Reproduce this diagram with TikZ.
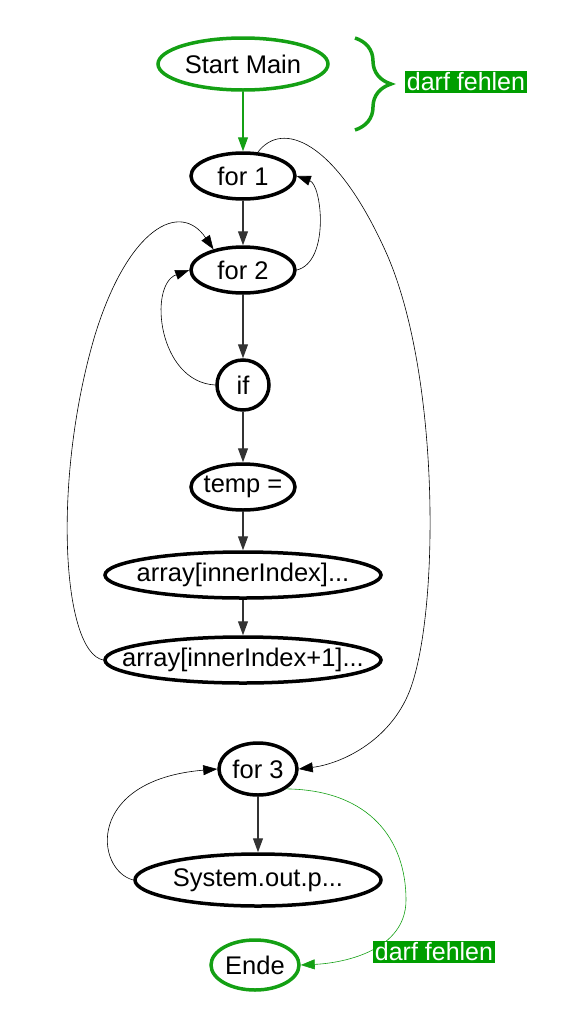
\documentclass[tikz,border=0pt]{standalone}
\usepackage{fontspec}
\setmainfont{Liberation Sans}
\usetikzlibrary{shapes.geometric,arrows.meta,decorations.pathreplacing}
\definecolor{okgreen}{RGB}{20,160,20}
\definecolor{tagbg}{RGB}{0,158,0}
\begin{document}
\begin{tikzpicture}[x=1pt,y=-1pt,
    state/.style={ellipse,draw=black,line width=3.5pt,inner xsep=-40pt,inner ysep=0pt,
      fill=white,font=\fontsize{25.5}{30}\selectfont,minimum height=46},
    endstate/.style={state,draw=okgreen},
    flow/.style={line width=1.2pt,draw=black!80,-{Triangle[length=14pt,width=10pt]}},
    back/.style={line width=0.6pt,draw=black,-{Triangle[length=14pt,width=10pt]}},
    tag/.style={fill=tagbg,text=white,inner sep=2pt,font=\fontsize{25}{30}\selectfont}]
      \useasboundingbox (0,0) rectangle (563,1010);
      % nodes
      \node[endstate,minimum width=170,minimum height=52] (start) at (243,64) {Start Main};
      \node[state,minimum width=104] (for1) at (243,176) {for 1};
      \node[state,minimum width=104] (for2) at (243,270) {for 2};
      \node[state,minimum width=52,minimum height=50] (if) at (243,385) {if};
      \node[state,minimum width=104] (temp) at (243,487) {temp =};
      \node[state,minimum width=276] (swapa) at (243,575) {array[innerIndex]...};
      \node[state,minimum width=276] (swapb) at (243,660) {array[innerIndex+1]...};
      \node[state,minimum width=78,minimum height=52] (for3) at (258,769) {for 3};
      \node[state,minimum width=246,minimum height=52] (print) at (258,880) {System.out.p...};
      \node[endstate,minimum width=88,minimum height=50] (ende) at (255,965) {Ende};
      % straight edges
      \draw[flow,draw=okgreen] (start) -- (for1);
      \draw[flow] (for1) -- (for2);
      \draw[flow] (for2) -- (if);
      \draw[flow] (if) -- (temp);
      \draw[flow] (temp) -- (swapa);
      \draw[flow] (swapa) -- (swapb);
      \draw[flow] (for3) -- (print);
      % loops
      \draw[back] (for2.east) .. controls (330,262) and (322,185) .. (for1.east);
      \draw[back] (if.west) .. controls (158,382) and (148,285) .. (for2.west);
      \draw[back] (swapb.west) .. controls (62,652) and (52,480) .. (95,335)
        .. controls (128,228) and (180,200) .. (for2.145);
      \draw[back] (for1.58) .. controls (282,120) and (335,140) .. (385,250)
        .. controls (440,370) and (440,610) .. (410,690)
        .. controls (390,742) and (340,764) .. (for3.east);
      \draw[back] (print.west) .. controls (95,870) and (85,780) .. (for3.west);
      \draw[back,draw=okgreen] (for3.-35) .. controls (370,790) and (406,840) .. (406,900)
        .. controls (406,950) and (345,963) .. (ende.east);
      % remarks
      \draw[okgreen,line width=3.5pt,decorate,decoration={brace,amplitude=36pt}]
        (355,38) -- (355,130);
      \node[tag] (tagtop) at (466,82) {darf fehlen};
      \node[tag] (tagend) at (434,952) {darf fehlen};
\end{tikzpicture}
\end{document}
